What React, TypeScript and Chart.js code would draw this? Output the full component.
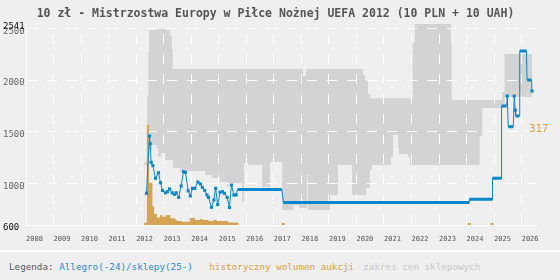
import React, { useEffect, useRef } from "react";
import { Chart, registerables } from "chart.js";

Chart.register(...registerables);

// ---------- texts ----------
const TITLE = "10 zł - Mistrzostwa Europy w Piłce Nożnej UEFA 2012 (10 PLN + 10 UAH)";
const LEGEND_PREFIX = "Legenda:";
const LEGEND_PRICE = "Allegro(-24)/sklepy(25-)";
const LEGEND_VOLUME = "historyczny wolumen aukcji";
const LEGEND_RANGE = "zakres cen sklepowych";

// ---------- axes ----------
const yearTicks = [2008, 2009, 2010, 2011, 2012, 2013, 2014, 2015, 2016, 2017, 2018, 2019, 2020, 2021, 2022, 2023, 2024, 2025, 2026];
const priceTicks = [600, 1000, 1500, 2000, 2500, 2541];
const X_MIN = 2008;
const X_MAX = 2026.52;
const PRICE_MIN = 600;
const PRICE_MAX = 2541;
const VOLUME_AXIS_MAX = 637;

// ---------- shop price range (value holds until next date) ----------
const bandDates = [
  2012.29, 2012.4, 2012.44, 2012.47, 2012.58, 2012.73, 2012.8, 2012.91, 2013.06, 2013.24,
  2013.3, 2013.33, 2013.34, 2013.6, 2014.51, 2014.76, 2015.05, 2015.3, 2015.34, 2015.85,
  2015.92, 2016.07, 2016.57, 2016.86, 2017.3, 2017.7, 2017.92, 2018.06, 2018.17, 2018.21,
  2018.24, 2019.04, 2019.33, 2019.84, 2020.24, 2020.31, 2020.35, 2020.42, 2020.49, 2020.56,
  2021.25, 2021.33, 2021.51, 2021.54, 2021.87, 2021.94, 2022.04, 2022.12, 2023.43, 2023.46,
  2024.47, 2024.57, 2025.29, 2025.38, 2026.38,
];
const bandHigh = [
  1211, 1846, 2270, 2483, 2483, 2492, 2492, 2492, 2483, 2428,
  2299, 2106, 2106, 2106, 2106, 2106, 2106, 2106, 2106, 2106,
  2106, 2106, 2106, 2106, 2106, 2106, 2106, 2039, 2106, 2106,
  2106, 2106, 2106, 2106, 2048, 2000, 2000, 1865, 1823, 1823,
  1823, 1823, 1823, 1823, 1823, 1823, 2357, 2541, 2357, 1807,
  1807, 1807, 1884, 2251, 2251,
];
const bandLow = [
  1179, 1324, 1324, 1324, 1372, 1343, 1257, 1295, 1228, 1228,
  1228, 1228, 1150, 1121, 1083, 1054, 1015, 967, 1006, 822,
  1198, 1179, 967, 1208, 745, 793, 764, 764, 764, 1092,
  745, 890, 1179, 890, 890, 890, 957, 957, 1131, 1179,
  1257, 1469, 1343, 1286, 1257, 1179, 1179, 1179, 1179, 1179,
  1459, 1730, 1730, 1836, 1836,
];

// ---------- historical auction volume (value holds until next date) ----------
const volumeDates = [
  2012.29, 2012.39, 2012.47, 2012.59, 2012.65, 2012.75, 2012.87, 2012.96, 2013.08, 2013.24,
  2013.42, 2013.48, 2013.66, 2013.96, 2014.14, 2014.33, 2014.41, 2014.63, 2014.81, 2014.93,
  2015.23, 2015.35, 2015.71, 2017.28, 2017.4, 2024.04, 2024.16, 2024.88, 2024.99,
];
const volumeValues = [
  8, 317, 134, 59, 35, 24, 31, 26, 32, 21,
  16, 13, 10, 22, 16, 19, 16, 13, 16, 13,
  13, 8, 0, 6, 0, 6, 0, 6, 0,
];

// ---------- Allegro auctions / shop prices: single observations ----------
const auctionDates = [
  2012.376, 2012.485, 2012.51, 2012.546, 2012.608, 2012.703, 2012.811, 2012.884, 2012.956, 2013.065,
  2013.138, 2013.21, 2013.308, 2013.392, 2013.454, 2013.544, 2013.635, 2013.718, 2013.791, 2013.889,
  2013.969, 2014.045, 2014.132, 2014.241, 2014.335, 2014.404, 2014.488, 2014.571, 2014.626, 2014.734,
  2014.822, 2014.887, 2014.959, 2015.05, 2015.134, 2015.206, 2015.304, 2015.388, 2015.46, 2015.551,
  2015.631, 2025.476, 2025.73, 2025.767, 2026.375,
];
const auctionPrices = [
  906, 1459, 1384, 1205, 1173, 1051, 1105, 1008, 933, 911,
  922, 948, 911, 896, 911, 867, 977, 1115, 1109, 930,
  880, 954, 954, 1015, 996, 964, 935, 890, 867, 771,
  841, 954, 798, 916, 922, 906, 867, 769, 986, 890,
  890, 1845, 1845, 1710, 1894,
];

// ---------- long-lasting price levels ----------
const levelStart = [2015.678, 2017.35, 2024.1, 2024.94, 2025.27, 2025.512, 2025.781, 2025.929, 2026.197];
const levelEnd = [2017.29, 2024.1, 2024.94, 2025.27, 2025.45, 2025.694, 2025.911, 2026.172, 2026.357];
const levelPrice = [942, 817, 848, 1051, 1749, 1549, 1652, 2280, 2000];

// ---------- styles ----------
const BG = "#efefef";
const BAND = "#d3d3d3";
const BLUE = "#0a88cc";
const ORANGE = "#d6a350";
const ORANGE_TEXT = "#e0a040";
const MONO = '"DejaVu Sans Mono", "Liberation Mono", monospace';

export default function App() {
  const ref = useRef<HTMLCanvasElement>(null);

  useEffect(() => {
    const canvas = ref.current;
    if (!canvas) return;

    const bandUpper = bandDates.map((d, i) => ({ x: d, y: bandHigh[i] }));
    const bandLower = bandDates.map((d, i) => ({ x: d, y: bandLow[i] }));
    const volume = volumeDates.map((d, i) => ({ x: d, y: volumeValues[i] }));
    const markers = auctionDates.map((d, i) => ({ x: d, y: auctionPrices[i] }));

    const levels: { x: number; y: number | null }[] = [];
    levelStart.forEach((s, i) => {
      levels.push({ x: s, y: levelPrice[i] });
      levels.push({ x: levelEnd[i], y: levelPrice[i] });
      levels.push({ x: levelEnd[i], y: null });
    });

    const path: { x: number; y: number }[] = [];
    auctionDates.forEach((d, i) => path.push({ x: d, y: auctionPrices[i] }));
    levelStart.forEach((s, i) => {
      path.push({ x: s, y: levelPrice[i] });
      path.push({ x: levelEnd[i], y: levelPrice[i] });
    });
    path.sort((a, b) => a.x - b.x);

    const volumePeak = Math.max(...volumeValues);
    const BAND_LOWER_INDEX = 5;

    const overlay = {
      id: "overlay",
      afterDatasetDraw(chart: any, args: any) {
        if (args.index === BAND_LOWER_INDEX) {
          chart.scales.x.drawGrid(chart.chartArea);
          chart.scales.y.drawGrid(chart.chartArea);
          chart.scales.x.drawBorder();
          chart.scales.y.drawBorder();
        }
      },
      afterDraw(chart: any) {
        const ctx = chart.ctx;
        ctx.save();
        ctx.fillStyle = "#555555";
        ctx.font = `bold 11.5px ${MONO}`;
        ctx.textAlign = "center";
        ctx.textBaseline = "alphabetic";
        ctx.fillText(TITLE, 275.5, 16.8);

        const y2 = chart.scales.y2;
        ctx.fillStyle = ORANGE_TEXT;
        ctx.font = `10.5px ${MONO}`;
        ctx.textAlign = "left";
        ctx.textBaseline = "middle";
        ctx.fillText(String(volumePeak), chart.chartArea.right - 6.7, y2.getPixelForValue(volumePeak) + 4);
        ctx.restore();
      },
    };

    const chart = new Chart(canvas, {
      type: "line",
      data: {
        datasets: [
          {
            data: path,
            borderColor: BLUE,
            borderWidth: 1,
            pointRadius: 0,
            tension: 0,
            order: 1,
          } as any,
          {
            data: markers,
            showLine: false,
            pointStyle: "rect",
            pointRadius: 2.2,
            pointBorderWidth: 0,
            pointBackgroundColor: BLUE,
            borderColor: BLUE,
            order: 0,
          },
          {
            data: levels,
            borderColor: BLUE,
            borderWidth: 3,
            borderCapStyle: "butt",
            pointRadius: 0,
            spanGaps: false,
            order: 1,
          },
          {
            data: volume,
            yAxisID: "y2",
            stepped: true,
            fill: "origin",
            backgroundColor: ORANGE,
            borderColor: "rgba(0,0,0,0)",
            borderWidth: 0,
            pointRadius: 0,
            order: 2,
          },
          {
            // upper edge of the shop price range, filled down
            data: bandUpper,
            stepped: true,
            fill: "start",
            backgroundColor: BAND,
            borderColor: "rgba(0,0,0,0)",
            borderWidth: 0,
            pointRadius: 0,
            order: 4,
          },
          {
            // lower edge of the shop price range, area below restored to background
            data: bandLower,
            stepped: true,
            fill: "start",
            backgroundColor: BG,
            borderColor: "rgba(0,0,0,0)",
            borderWidth: 0,
            pointRadius: 0,
            order: 3,
          },
        ],
      },
      options: {
        animation: false,
        responsive: false,
        events: [],
        layout: { padding: { top: 24, left: 3, right: 24, bottom: 0 } },
        plugins: {
          legend: { display: false },
          tooltip: { enabled: false },
          title: { display: false },
        },
        scales: {
          x: {
            type: "linear",
            min: X_MIN,
            max: X_MAX,
            afterBuildTicks: (s: any) => {
              s.ticks = yearTicks.map((v) => ({ value: v }));
            },
            afterFit: (s: any) => {
              s.height = 25;
            },
            grid: { color: "#ffffff", lineWidth: 1, drawTicks: false },
            border: { display: true, color: "#ffffff", width: 1, dash: [10, 10], dashOffset: 10 },
            ticks: {
              align: "start",
              autoSkip: false,
              maxRotation: 0,
              padding: 10,
              color: "#555555",
              font: { family: MONO, size: 7 },
              callback: (v: any) => String(v),
            },
          },
          y: {
            type: "linear",
            min: PRICE_MIN,
            max: PRICE_MAX,
            afterBuildTicks: (s: any) => {
              s.ticks = priceTicks.map((v) => ({ value: v }));
            },
            afterFit: (s: any) => {
              s.width = 23;
            },
            grid: {
              color: (c: any) => (c.tick && c.tick.value === PRICE_MAX ? "rgba(0,0,0,0)" : "#ffffff"),
              lineWidth: 1,
              drawTicks: false,
            },
            border: { display: true, color: "#ffffff", width: 1, dash: [10, 10], dashOffset: 0 },
            ticks: {
              crossAlign: "far",
              autoSkip: false,
              padding: 0,
              labelOffset: 3,
              color: (c: any) =>
                c.tick && (c.tick.value === PRICE_MIN || c.tick.value === PRICE_MAX) ? "#111111" : "#666666",
              font: { family: MONO, size: 9 },
              callback: (v: any) => String(v),
            },
          },
          y2: {
            type: "linear",
            display: false,
            min: 0,
            max: VOLUME_AXIS_MAX,
          },
        },
      } as any,
      plugins: [overlay],
    });

    return () => chart.destroy();
  }, []);

  const legendSpan = (left: number, color: string, text: string) => (
    <span
      style={{
        position: "absolute",
        left,
        top: 0,
        lineHeight: "30px",
        color,
        whiteSpace: "pre",
      }}
    >
      {text}
    </span>
  );

  return (
    <div
      style={{
        position: "fixed",
        left: 0,
        top: 0,
        width: 560,
        height: 280,
        background: BG,
        overflow: "hidden",
      }}
    >
      <canvas ref={ref} width={560} height={250} style={{ display: "block", width: 560, height: 250 }} />
      <div style={{ position: "absolute", left: 0, top: 250, width: 560, height: 2, background: "#ffffff" }} />
      <div
        style={{
          position: "absolute",
          left: 0,
          top: 252,
          width: 560,
          height: 28,
          fontFamily: MONO,
          fontSize: 9.25,
        }}
      >
        {legendSpan(9, "#555555", LEGEND_PREFIX)}
        {legendSpan(59.2, "#1a8ad4", LEGEND_PRICE)}
        {legendSpan(209.3, ORANGE_TEXT, LEGEND_VOLUME)}
        {legendSpan(363.3, "#c8c8c8", LEGEND_RANGE)}
      </div>
    </div>
  );
}
